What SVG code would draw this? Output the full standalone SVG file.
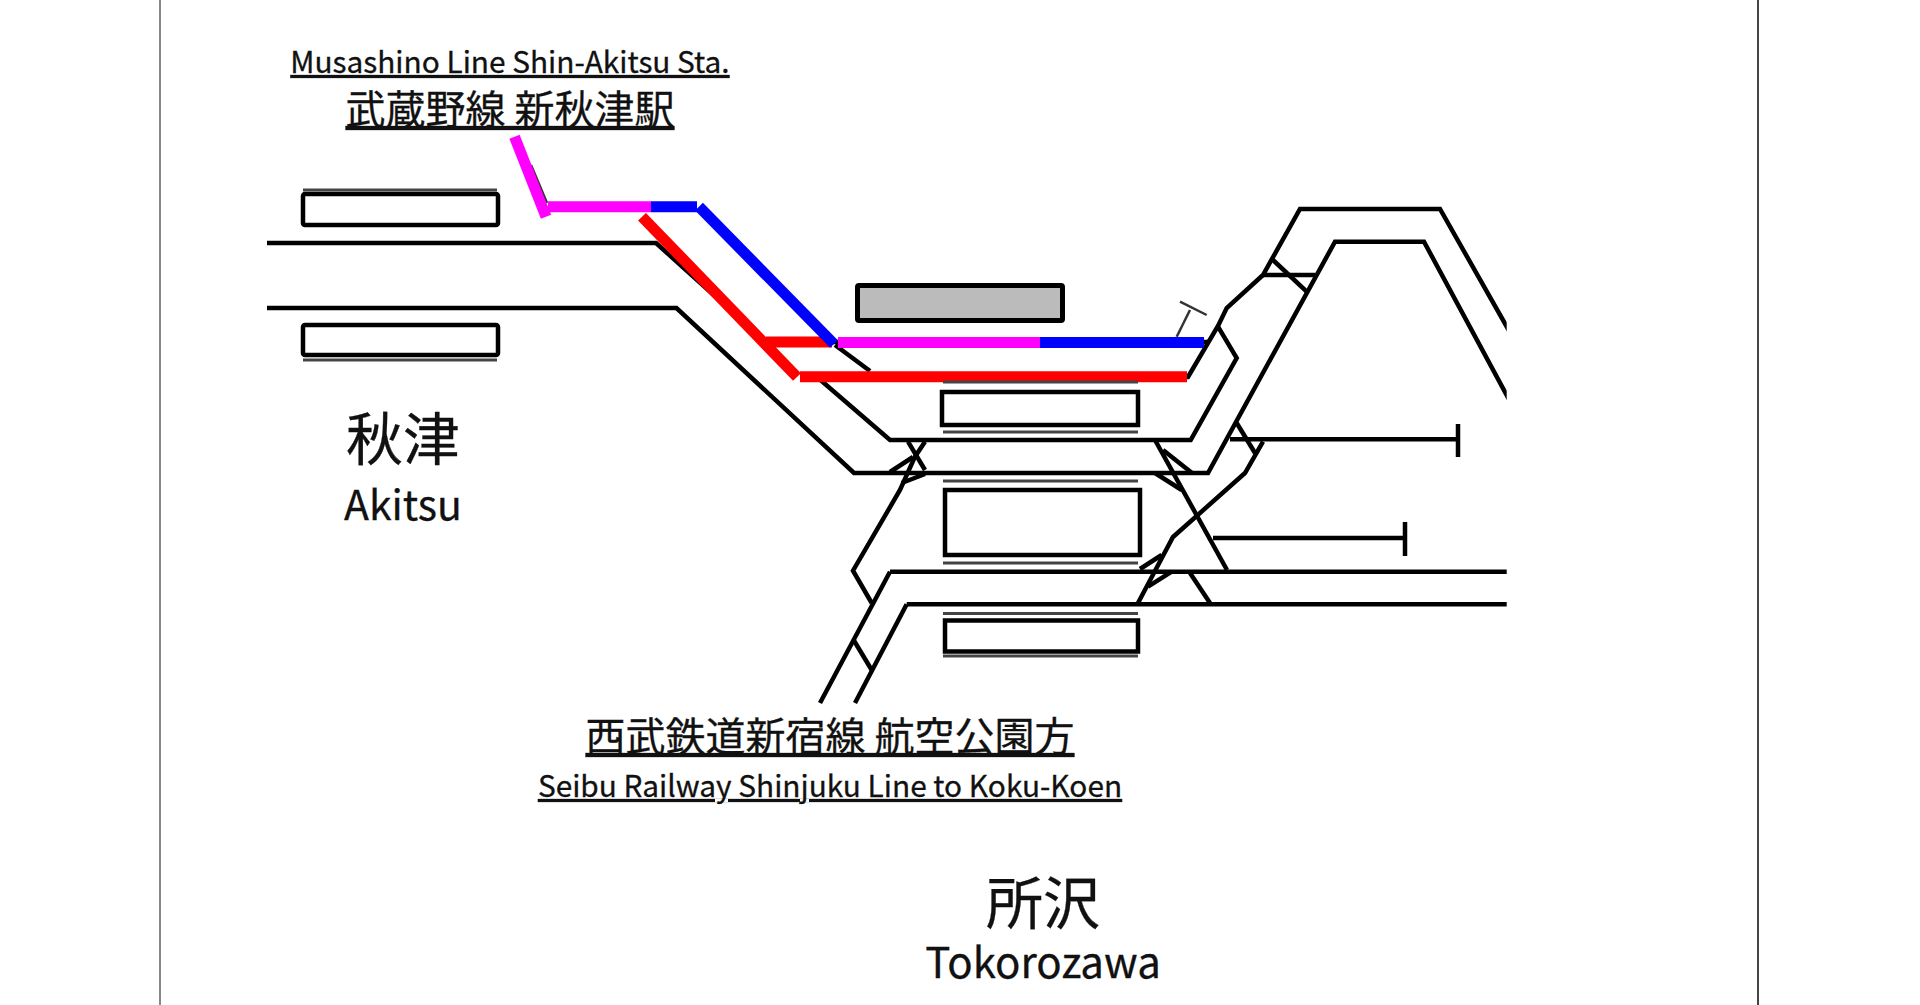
<svg xmlns="http://www.w3.org/2000/svg" width="1920" height="1005" viewBox="0 0 1920 1005">
<style>
.tr{fill:none;stroke:#000;stroke-width:4.5;stroke-linejoin:miter}
.thin{fill:none;stroke:#333;stroke-width:2.5}
.pf{fill:#fff;stroke:#000;stroke-width:4.5}
.ed{fill:none;stroke:#444;stroke-width:3}
.hl{fill:none;stroke-width:11}
.m{stroke:#f0f}.b{stroke:#00f}.r{stroke:#f00}
text{font-family:"Noto Sans CJK JP","Noto Sans",sans-serif;fill:#111;text-anchor:middle;stroke:#111;stroke-width:.3}
.u{text-decoration:underline}
</style>
<defs><clipPath id="c"><rect x="0" y="0" width="1506.7" height="1005"/></clipPath></defs>
<rect width="1920" height="1005" fill="#fff"/>
<g id="frame"><path d="M160 0V1005" stroke="#888" stroke-width="2" fill="none"/><path d="M1758 0V1005" stroke="#444" stroke-width="2" fill="none"/></g>
<g id="connectors" clip-path="url(#c)">
<path class="tr" d="M267 243H656L686 270L766 342H1208"/>
<path class="tr" d="M835 345L870 371"/>
<path class="tr" d="M800 377H817L890 440H1190.7L1236.7 358L1218 326.7"/>
<path class="tr" d="M800 377H1188L1218 326L1226.7 308L1263 275L1300 209H1440L1520 350"/>
<path class="tr" d="M267 308H676.5L854 473H1208L1335 241.7H1424L1520 420"/>
<path class="tr" d="M1263 275H1315"/>
<path class="tr" d="M1273 260L1306.7 291.7"/>
<path class="tr" d="M1230 439.3H1458"/>
<path class="tr" d="M1458 424V457"/>
<path class="tr" d="M1236.7 423L1255 453"/>
<path class="tr" d="M1263 441.7L1245 473L1173 537L1138 603"/>
<path class="tr" d="M1155 440L1227 570"/>
<path class="tr" d="M1163 450L1192 473"/>
<path class="tr" d="M1155 473L1181.7 490"/>
<path class="tr" d="M1140 569L1161.7 555"/>
<path class="tr" d="M1171.7 571.7L1148 586.7"/>
<path class="tr" d="M1190 573L1210 603"/>
<path class="tr" d="M1213 538H1405"/>
<path class="tr" d="M1405 522V556"/>
<path class="tr" d="M890 571.7H1520"/>
<path class="tr" d="M906.7 604.3H1520"/>
<path class="tr" d="M908 441.7L925 470"/>
<path class="tr" d="M925 441.7L915 456.7L900 490L853 570.7L871.7 603"/>
<path class="tr" d="M890 472L913 457"/>
<path class="tr" d="M901.7 483L925 474"/>
<path class="tr" d="M890 571.7L820 703"/>
<path class="tr" d="M906.7 604.3L855 703"/>
<path class="tr" d="M853 639L871.7 670"/>
<path class="thin" d="M531 165L547 203"/>
<path class="thin" d="M1176.7 336.7L1190 310"/>
<path class="thin" d="M1180 301.7L1206.7 315"/>
</g>
<g id="colored-routes">
<path class="hl m" d="M514.5 136.7L546 216.7"/>
<path class="hl m" d="M548 206.7H651"/>
<path class="hl b" d="M651 206.7H697"/>
<path class="hl r" d="M642 216.7L797 377"/>
<path class="hl r" d="M766 342H832"/>
<path class="hl r" d="M800 376.7H1187"/>
<path class="hl m" d="M838 342.5H1040"/>
<path class="hl b" d="M1040 342.5H1204"/>
<path class="hl b" d="M699 206.7L834 344"/>
</g>
<g id="platform-akitsu-1"><rect class="pf" x="303" y="194" width="195" height="31" rx="2"/><path class="ed" d="M303 190H497"/></g>
<g id="platform-akitsu-2"><rect class="pf" x="303" y="325" width="195" height="30" rx="2"/><path class="ed" d="M303 360H497"/></g>
<g id="platform-shin-akitsu"><rect x="857.5" y="285.5" width="205" height="35" fill="#bbb" stroke="#000" stroke-width="5" rx="1.5"/></g>
<g id="platform-tokorozawa-1"><rect class="pf" x="942" y="392" width="196" height="33"/><path class="ed" d="M943 382H1138M943 432H1138"/></g>
<g id="platform-tokorozawa-2"><rect class="pf" x="945" y="490" width="195" height="65"/><path class="ed" d="M943 481H1138M943 563H1138"/></g>
<g id="platform-tokorozawa-3"><rect class="pf" x="945" y="620.5" width="193" height="31"/><path class="ed" d="M943 613.5H1138M943 656H1138"/></g>
<g id="label-musashino"><text class="u" x="510" y="73" font-size="29.8">Musashino Line Shin-Akitsu Sta.</text><text class="u" x="510" y="124" font-size="40">武蔵野線 新秋津駅</text></g>
<g id="label-seibu"><text class="u" x="830" y="751" font-size="40">西武鉄道新宿線 航空公園方</text><text class="u" x="830" y="797" font-size="29.8">Seibu Railway Shinjuku Line to Koku-Koen</text></g>
<g id="station-akitsu"><text x="403" y="460" font-size="57">秋津</text><text x="403" y="520" font-size="41">Akitsu</text></g>
<g id="station-tokorozawa"><text x="1043" y="924" font-size="57">所沢</text><text x="1043" y="978" font-size="42">Tokorozawa</text></g>
</svg>
